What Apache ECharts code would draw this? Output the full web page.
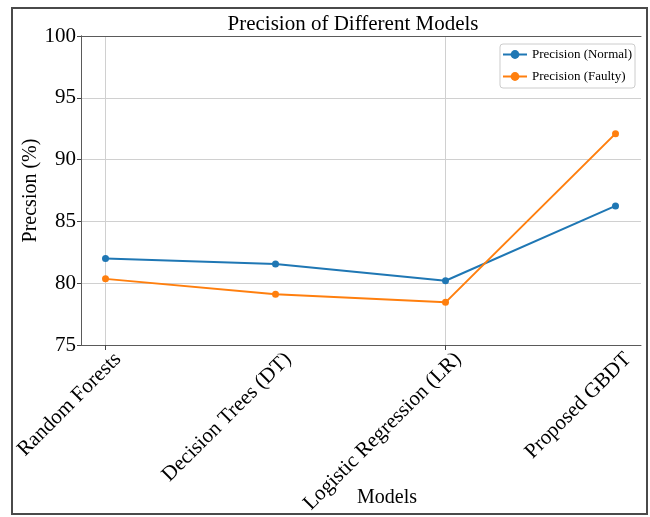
<!DOCTYPE html>
<html>
<head>
<meta charset="utf-8">
<script src="https://cdn.jsdelivr.net/npm/echarts@6/dist/echarts.min.js"></script>
<style>html,body{margin:0;padding:0;background:#fff}#c{width:650px;height:517px}</style>
</head>
<body>
<div id="c"></div>
<script>
const categories = ['Random Forests', 'Decision Trees (DT)', 'Logistic Regression (LR)', 'Proposed GBDT'];
const precisionNormal = [82.0, 81.55, 80.2, 86.25];
const precisionFaulty = [80.35, 79.1, 78.45, 92.1];
const yMin = 75, yMax = 100, yStep = 5;

const FONT = 'Liberation Serif';
const chart = echarts.init(document.getElementById('c'), null, {renderer: 'canvas'});
const frameColor = '#5a5a5a';
const gridColor = '#d0d0d0';

const option = {
  backgroundColor: '#fff',
  animation: false,
  title: {
    text: 'Precision of Different Models',
    left: 348, top: 9, textAlign: 'center',
    textStyle: {fontFamily: FONT, fontSize: 21, fontWeight: 'normal', color: '#000'}
  },
  legend: {
    orient: 'vertical', right: 15, top: 44,
    padding: [4, 3, 5, 2], itemGap: 9, itemWidth: 24, itemHeight: 11,
    backgroundColor: 'rgba(255,255,255,0.85)', borderColor: '#ccc', borderWidth: 1, borderRadius: 3,
    textStyle: {fontFamily: FONT, fontSize: 13, color: '#000'},
    data: ['Precision (Normal)', 'Precision (Faulty)']
  },
  grid: [
    {left: 81, right: 9, top: 36, bottom: 172},
    {left: 105.5, right: 34.5, top: 36, bottom: 172},
    {left: 118, right: 22, top: 36, bottom: 172}
  ],
  xAxis: [
    {gridIndex: 0, type: 'value', min: 0, max: 1, position: 'bottom',
     axisLine: {show: true, lineStyle: {color: frameColor, width: 1}}, axisTick: {show: false},
     axisLabel: {show: false}, splitLine: {show: false}},
    {gridIndex: 0, type: 'value', min: 0, max: 1, position: 'top',
     axisLine: {show: true, lineStyle: {color: frameColor, width: 1}}, axisTick: {show: false},
     axisLabel: {show: false}, splitLine: {show: false}},
    {gridIndex: 1, type: 'category', data: categories, boundaryGap: false,
     axisLine: {show: false},
     axisTick: {show: true, inside: false, length: 5, alignWithLabel: true, lineStyle: {color: '#444', width: 1}},
     axisLabel: {show: false},
     splitLine: {show: true, lineStyle: {color: gridColor, width: 1}}},
    {gridIndex: 2, type: 'category', data: categories, boundaryGap: false,
     axisLine: {show: false}, axisTick: {show: false},
     axisLabel: {show: true, rotate: 45, margin: 11, interval: 0,
       fontFamily: FONT, fontSize: 21, color: '#000'},
     splitLine: {show: false}}
  ],
  yAxis: [
    {gridIndex: 0, type: 'value', min: yMin, max: yMax, interval: yStep, position: 'left',
     name: 'Precsion (%)', nameLocation: 'middle', nameGap: 40, nameMoveOverlap: false,
     nameTextStyle: {fontFamily: FONT, fontSize: 20, color: '#000'},
     axisLine: {show: true, lineStyle: {color: frameColor, width: 1}},
     axisTick: {show: true, inside: false, length: 4, lineStyle: {color: '#444', width: 1}},
     axisLabel: {fontFamily: FONT, fontSize: 21, color: '#000', margin: 5},
     splitLine: {show: true, showMinLine: false, showMaxLine: false, lineStyle: {color: gridColor, width: 1}}},
    {gridIndex: 0, type: 'value', min: yMin, max: yMax, interval: yStep, position: 'right',
     axisLine: {show: true, lineStyle: {color: frameColor, width: 1}}, axisTick: {show: false},
     axisLabel: {show: false}, splitLine: {show: false}},
    {gridIndex: 1, type: 'value', min: yMin, max: yMax, show: false, splitLine: {show: false}},
    {gridIndex: 2, type: 'value', min: yMin, max: yMax, show: false, splitLine: {show: false}}
  ],
  series: [
    {name: 'Precision (Normal)', type: 'line', xAxisIndex: 2, yAxisIndex: 2,
     data: precisionNormal, symbol: 'circle', symbolSize: 7, showSymbol: true,
     itemStyle: {color: '#1f77b4'}, lineStyle: {color: '#1f77b4', width: 2}, z: 3},
    {name: 'Precision (Faulty)', type: 'line', xAxisIndex: 2, yAxisIndex: 2,
     data: precisionFaulty, symbol: 'circle', symbolSize: 7, showSymbol: true,
     itemStyle: {color: '#ff7f0e'}, lineStyle: {color: '#ff7f0e', width: 2}, z: 3}
  ],
  graphic: [
    {type: 'rect', shape: {x: 12, y: 8, width: 635, height: 506},
     style: {fill: 'none', stroke: '#4a4a4a', lineWidth: 2}, silent: true, z: 100},
    {type: 'text', left: 357, top: 488,
     style: {text: 'Models', fontFamily: FONT, fontSize: 20, fill: '#000'}}
  ]
};
chart.setOption(option);
</script>
</body>
</html>
